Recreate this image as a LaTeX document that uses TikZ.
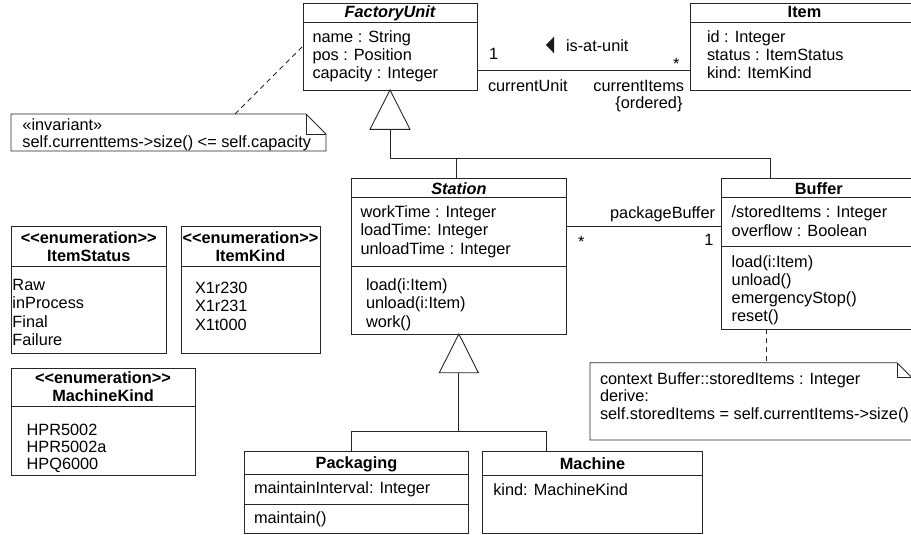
\documentclass[tikz,border=0pt]{standalone}
\usepackage{fontspec}
\setmainfont{Liberation Sans}
\newcommand\dfont{\fontsize{16.3}{17.7}\selectfont}
% one text line per node, baselines spaced by #4
\newcommand\linesat[5]{%
  \foreach \ln [count=\k] in {#5}
    \node[txt] (#1\k) at (#2,{#3+#4*(\k-1)}) {\ln};}
\begin{document}
\begin{tikzpicture}[x=1pt,y=-1pt,
  every node/.style={inner sep=0pt,outer sep=0pt,font=\dfont},
  umlbox/.style={draw=black!85,line width=0.9pt,anchor=north west},
  notebox/.style={anchor=north west},
  ln/.style={draw=black!85,line width=0.9pt},
  dashln/.style={ln,dash pattern=on 5pt off 4pt},
  txt/.style={anchor=base west},
  rtxt/.style={anchor=base east},
  ttl/.style={anchor=base,font=\dfont\bfseries},
  ttli/.style={anchor=base,font=\dfont\bfseries\itshape},
]
\clip (0,0) rectangle (911,535);

% ---------- class boxes ----------
\node[umlbox,minimum width=174,minimum height=87]      (fu)      at (303,3) {};
\node[umlbox,minimum width=229,minimum height=87]      (item)    at (690,3) {};
\node[umlbox,minimum width=214.3,minimum height=155.3] (station) at (351.7,178.7) {};
\node[umlbox,minimum width=194.3,minimum height=150.5] (buffer)  at (721.7,178.5) {};
\node[umlbox,minimum width=155.7,minimum height=126.6] (istatus) at (11,226.7) {};
\node[umlbox,minimum width=139,minimum height=126.6]   (ikind)   at (181,226.7) {};
\node[umlbox,minimum width=184,minimum height=106.7]   (mkind)   at (11,368.3) {};
\node[umlbox,minimum width=224.4,minimum height=82.3]  (pack)    at (244.3,451) {};
\node[umlbox,minimum width=219.6,minimum height=82.3]  (mach)    at (482.7,451) {};

% compartment separators
\foreach \b/\d in {fu/19.7,item/19.7,station/18.8,station/88,buffer/18.8,buffer/68.2,
                   istatus/40,ikind/40,mkind/38.4,pack/23.3,pack/53.3,mach/24}
  \draw[ln] ([yshift=-\d pt]\b.north west) -- ([yshift=-\d pt]\b.north east);

% ---------- class names ----------
\node[ttli] (fu-t)  at (390,18)    {FactoryUnit};
\node[ttl]  (it-t)  at (804.5,18)  {Item};
\node[ttli] (st-t)  at (458.9,194) {Station};
\node[ttl]  (bu-t)  at (818.8,194) {Buffer};
\node[ttl]  (is-t1) at (88.8,243.5) {<\kern0pt<enumeration>\kern0pt>};
\node[ttl]  (is-t2) at (88.8,261.2) {ItemStatus};
\node[ttl]  (ik-t1) at (250.5,243.5) {<\kern0pt<enumeration>\kern0pt>};
\node[ttl]  (ik-t2) at (250.5,261.2) {ItemKind};
\node[ttl]  (mk-t1) at (103,383.5) {<\kern0pt<enumeration>\kern0pt>};
\node[ttl]  (mk-t2) at (103,401)   {MachineKind};
\node[ttl]  (pk-t)  at (356.5,468) {Packaging};
\node[ttl]  (ma-t)  at (592.5,469) {Machine};

% ---------- attributes, operations, literals ----------
\linesat{fu-a}{312.5}{43}{17.6}{name : String,pos : Position,capacity : Integer}
\linesat{it-a}{707}{42.5}{17.8}{id : Integer,status : ItemStatus,kind: ItemKind}
\linesat{st-a}{360.5}{217}{18.5}{workTime : Integer,loadTime: Integer,unloadTime : Integer}
\linesat{st-o}{366}{290}{18.5}{load(i:Item),unload(i:Item),work()}
\linesat{bu-a}{731.7}{217}{19}{/storedItems : Integer,overflow : Boolean}
\linesat{bu-o}{731.7}{267}{18.3}{load(i:Item),unload(),emergencyStop(),reset()}
\linesat{is-l}{12.5}{290.5}{18.3}{Raw,inProcess,Final,Failure}
\linesat{ik-l}{195}{293.5}{18.3}{X1r230,X1r231,X1t000}
\linesat{mk-l}{26.7}{435}{17.2}{HPR5002,HPR5002a,HPQ6000}
\node[txt] (pk-a) at (254,493)   {maintainInterval: Integer};
\node[txt] (pk-o) at (254,523.5) {maintain()};
\node[txt] (ma-a) at (493.3,495.5) {kind: MachineKind};

% ---------- association is-at-unit ----------
\draw[ln] ([yshift=-67.7pt]fu.north east) -- ([yshift=-67.7pt]item.north west);
\node[txt]  (as-m1) at (489,59.5)   {1};
\fill[black!90] (546,45) -- (554,36.7) -- (554,53.3) -- cycle;
\node[txt]  (as-n)  at (566,52)     {is-at-unit};
\node[txt]  (as-m2) at (673,70)     {*};
\node[txt]  (as-r1) at (488,91.5)   {currentUnit};
\node[rtxt] (as-r2) at (684,91.5)   {currentItems};
\node[rtxt] (as-r3) at (682.5,109)  {\{ordered\}};

% ---------- association packageBuffer ----------
\draw[ln] ([yshift=-48pt]station.north east) -- ([yshift=-48.2pt]buffer.north west);
\node[rtxt] (pb-r)  at (715,218.5) {packageBuffer};
\node[txt]  (pb-m1) at (578,247)   {*};
\node[rtxt] (pb-m2) at (713.5,245) {1};

% ---------- generalization: Station, Buffer -> FactoryUnit ----------
\draw[ln] (fu.south) -- ++(-20,39.3) -- ++(40,0) -- cycle;
\draw[ln] ([yshift=-39.3pt]fu.south) |- ([xshift=-48.8pt,yshift=20pt]buffer.north)
          -- ([xshift=-48.8pt]buffer.north);
\draw[ln] ([xshift=-2.9pt]station.north) -- ++(0,-20);

% ---------- generalization: Packaging, Machine -> Station ----------
\draw[ln] (station.south) -- ++(-19.5,38.7) -- ++(39,0) -- cycle;
\draw[ln] ([yshift=-38.7pt]station.south) |- ([xshift=-5.2pt,yshift=19.3pt]pack.north)
          -- ([xshift=-5.2pt]pack.north);
\draw[ln] ([yshift=-38.7pt]station.south) |- ([xshift=-45.8pt,yshift=19.3pt]mach.north)
          -- ([xshift=-45.8pt]mach.north);

% ---------- invariant note ----------
\node[notebox,minimum width=315,minimum height=37] (inv) at (11,114) {};
\draw[ln] (inv.north west) -- ([xshift=-20pt]inv.north east) -- ([yshift=-20pt]inv.north east)
          -- (inv.south east) -- (inv.south west) -- cycle;
\draw[ln] ([xshift=-20pt]inv.north east) |- ([yshift=-20pt]inv.north east);
\node[txt] (inv-1) at (22.5,131)   {«invariant»};
\node[txt] (inv-2) at (22.5,147.5) {self.currenttems->size() <= self.capacity};
\draw[dashln] ([xshift=224pt]inv.north west) -- ([yshift=-43pt]fu.north west);

% ---------- derivation note ----------
\node[notebox,minimum width=322,minimum height=77.3] (bn) at (590,362.7) {};
\draw[ln] (bn.north west) -- ([xshift=-15pt]bn.north east) -- ([yshift=-15pt]bn.north east)
          -- (bn.south east) -- (bn.south west) -- cycle;
\draw[ln] ([xshift=-15pt]bn.north east) |- ([yshift=-15pt]bn.north east);
\linesat{bn-l}{600}{384}{17.6}{context Buffer::storedItems : Integer,derive:,self.storedItems = self.currentItems->size()}
\draw[dashln] ([xshift=44.3pt]buffer.south west) -- ([xshift=176pt]bn.north west);
\end{tikzpicture}
\end{document}
